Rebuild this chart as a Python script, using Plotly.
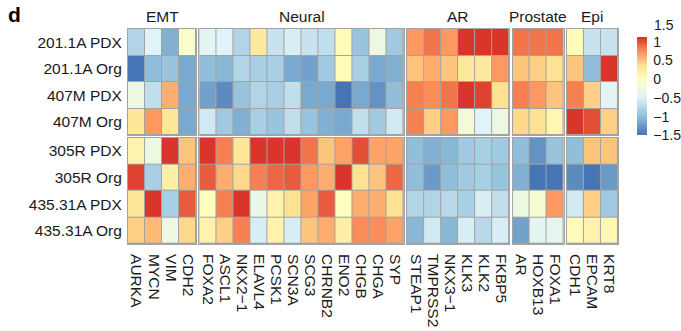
import plotly.graph_objects as go
from plotly.subplots import make_subplots

# Samples (rows) — first four and last four are drawn as separate blocks
samples = ["201.1A PDX", "201.1A Org", "407M PDX", "407M Org",
           "305R PDX", "305R Org", "435.31A PDX", "435.31A Org"]

# Gene groups (column blocks)
group_names = ["EMT", "Neural", "AR", "Prostate", "Epi"]
emt_genes = ["AURKA", "MYCN", "VIM", "CDH2"]
neural_genes = ["FOXA2", "ASCL1", "NKX2\u22121", "ELAVL4", "PCSK1", "SCN3A",
                "SCG3", "CHRNB2", "ENO2", "CHGB", "CHGA", "SYP"]
ar_genes = ["STEAP1", "TMPRSS2", "NKX3\u22121", "KLK3", "KLK2", "FKBP5"]
prostate_genes = ["AR", "HOXB13", "FOXA1"]
epi_genes = ["CDH1", "EPCAM", "KRT8"]

# Scaled expression, one row per sample
emt_values = [
    [-0.80, -0.50, -1.10, -0.10],
    [-1.50, -1.00, -0.95, -1.15],
    [-0.30, -0.70, 0.60, -1.15],
    [0.30, 0.70, 0.30, -1.15],
    [0.15, -0.30, 1.10, 0.50],
    [1.05, -0.85, 0.20, 0.60],
    [0.30, 1.10, -0.85, 0.95],
    [0.45, 0.55, -0.30, 0.40],
]
neural_values = [
    [-0.45, -0.50, -0.80, 0.25, -0.65, -0.55, -0.65, -0.70, 0.05, -0.95, -0.30, -0.90],
    [-1.00, -1.05, -0.80, -0.85, -0.85, -1.15, -1.20, -0.90, 0.05, -0.85, -1.15, -1.10],
    [-1.20, -1.35, -0.95, -0.80, -0.85, -0.70, -1.15, -1.15, -1.50, -1.15, -1.30, -1.00],
    [-0.60, -0.90, -1.10, -0.85, -0.95, -0.70, -0.95, -1.10, -1.15, -0.70, -0.90, -0.60],
    [1.10, 0.80, 0.30, 1.10, 1.10, 1.10, 0.85, 0.50, 0.65, 1.00, 0.65, 0.65],
    [0.95, 0.60, 0.40, 0.80, 0.90, 0.95, 0.70, 0.60, 1.10, 0.35, 0.50, 0.90],
    [0.00, 0.80, 1.10, -0.35, 0.15, 0.35, 0.65, 0.95, 0.00, 0.60, 0.60, 0.35],
    [0.15, 0.45, 0.80, -0.55, 0.15, -0.55, 0.50, 0.60, 0.20, 0.75, 0.75, 0.65],
]
ar_values = [
    [0.70, 0.85, 0.70, 1.10, 1.10, 1.10],
    [0.50, 0.60, 0.50, 0.25, 0.25, 0.70],
    [0.80, 0.75, 0.85, 1.10, 1.05, 0.35],
    [0.80, 0.45, 0.70, -0.20, -0.50, -0.30],
    [-1.00, -1.10, -1.05, -0.90, -0.85, -0.90],
    [-1.00, -1.25, -1.00, -0.90, -0.85, -0.95],
    [-0.80, -0.80, -0.75, -0.85, -0.55, -0.70],
    [-1.05, -0.60, -1.05, -0.55, -0.75, -0.55],
]
prostate_values = [
    [0.85, 0.85, 0.85],
    [0.50, 0.45, 0.35],
    [0.80, 0.70, 0.50],
    [0.40, 0.35, 0.10],
    [-1.00, -1.30, -0.95],
    [-1.10, -1.50, -1.50],
    [-0.30, -0.15, 0.70],
    [-1.20, -0.45, -0.40],
]
epi_values = [
    [0.05, -0.65, -0.65],
    [0.50, -1.00, 1.10],
    [0.80, 0.45, -0.45],
    [1.10, 1.00, 0.45],
    [-1.00, 0.50, 0.50],
    [-1.35, -1.50, -1.25],
    [-0.60, 0.45, -0.90],
    [0.05, 0.15, 0.10],
]

gene_blocks = [emt_genes, neural_genes, ar_genes, prostate_genes, epi_genes]
value_blocks = [emt_values, neural_values, ar_values, prostate_values, epi_values]

# Colour bar range and legend labels
cmin, cmax = -1.5, 1.12
legend_ticks = [-1.5, -1, -0.5, 0, 0.5, 1]
legend_top_label = 1.5

def pos(v):
    return (v - cmin) / (cmax - cmin)

colorscale = [
    [pos(-1.5), "#4575B4"],
    [pos(-1.0), "#91BFDB"],
    [pos(-0.5), "#E0F3F8"],
    [pos(0.0), "#FFFFBF"],
    [pos(0.37), "#FEE090"],
    [pos(0.75), "#FC8D59"],
    [pos(1.12), "#D73027"],
]

FONT = "Liberation Sans, Arial, Helvetica, sans-serif"
GRID = "#A3A3A3"

fig = make_subplots(
    rows=2, cols=5,
    column_widths=[len(g) for g in gene_blocks],
    row_heights=[0.5, 0.5],
    horizontal_spacing=0.0066,
    vertical_spacing=0.011,
)

row_blocks = [(0, 4), (4, 8)]
for r, (a, b) in enumerate(row_blocks, start=1):
    for c, (genes, vals) in enumerate(zip(gene_blocks, value_blocks), start=1):
        fig.add_trace(
            go.Heatmap(
                x=genes,
                y=samples[a:b],
                z=vals[a:b],
                coloraxis="coloraxis",
                xgap=1, ygap=1,
                hovertemplate="%{y}<br>%{x}: %{z}<extra></extra>",
            ),
            row=r, col=c,
        )
        fig.update_xaxes(
            row=r, col=c,
            tickmode="array", tickvals=genes, ticktext=genes,
            showticklabels=(r == 2), tickangle=90,
            ticks="outside" if r == 2 else "", ticklen=6, tickcolor="rgba(0,0,0,0)",
            showline=True, mirror=True, linecolor=GRID, linewidth=1,
            showgrid=False, zeroline=False,
            tickfont=dict(family=FONT, size=15.5, color="#1a1a1a"),
        )
        fig.update_yaxes(
            row=r, col=c,
            tickmode="array", tickvals=samples[a:b], ticktext=samples[a:b],
            autorange="reversed",
            showticklabels=(c == 1),
            ticks="outside" if c == 1 else "", ticklen=2, tickcolor="rgba(0,0,0,0)",
            showline=True, mirror=True, linecolor=GRID, linewidth=1,
            showgrid=False, zeroline=False,
            tickfont=dict(family=FONT, size=15.5, color="#1a1a1a"),
        )

# Group titles above the top block
annotations = []
for c, name in enumerate(group_names, start=1):
    xa = "x" if c == 1 else f"x{c}"
    annotations.append(dict(
        text=name, xref=f"{xa} domain", yref="paper",
        x=0.5, y=1.058, xanchor="center", yanchor="middle",
        showarrow=False, font=dict(family=FONT, size=15.5, color="#1a1a1a"),
    ))

# Panel letter
annotations.append(dict(
    text="<b>d</b>", xref="paper", yref="paper", x=-0.231, y=1.066,
    xanchor="center", yanchor="middle", showarrow=False,
    font=dict(family=FONT, size=21, color="#000000"),
))

# Top legend label sits above the colour bar
annotations.append(dict(
    text=str(legend_top_label), xref="paper", yref="paper",
    x=1.0715, y=1.02, xanchor="left", yanchor="middle", showarrow=False,
    xshift=-1, font=dict(family=FONT, size=14, color="#1a1a1a"),
))

fig.update_layout(
    width=681, height=331,
    margin=dict(l=128, r=63, t=29, b=87, autoexpand=False),
    paper_bgcolor="white",
    plot_bgcolor=GRID,
    font=dict(family=FONT, color="#1a1a1a"),
    coloraxis=dict(
        colorscale=colorscale, cmin=cmin, cmax=cmax,
        colorbar=dict(
            x=1.0394, xanchor="left", xpad=0,
            y=0.9614, yanchor="top", ypad=0,
            thickness=10, len=98, lenmode="pixels",
            outlinewidth=0,
            tickvals=legend_ticks,
            ticktext=[f"{v:g}".replace("-", "\u2212") for v in legend_ticks],
            ticks="outside", ticklen=4, tickcolor="rgba(0,0,0,0)",
            tickfont=dict(family=FONT, size=14, color="#1a1a1a"),
        ),
    ),
    annotations=annotations,
)

fig.write_html("out.html")
